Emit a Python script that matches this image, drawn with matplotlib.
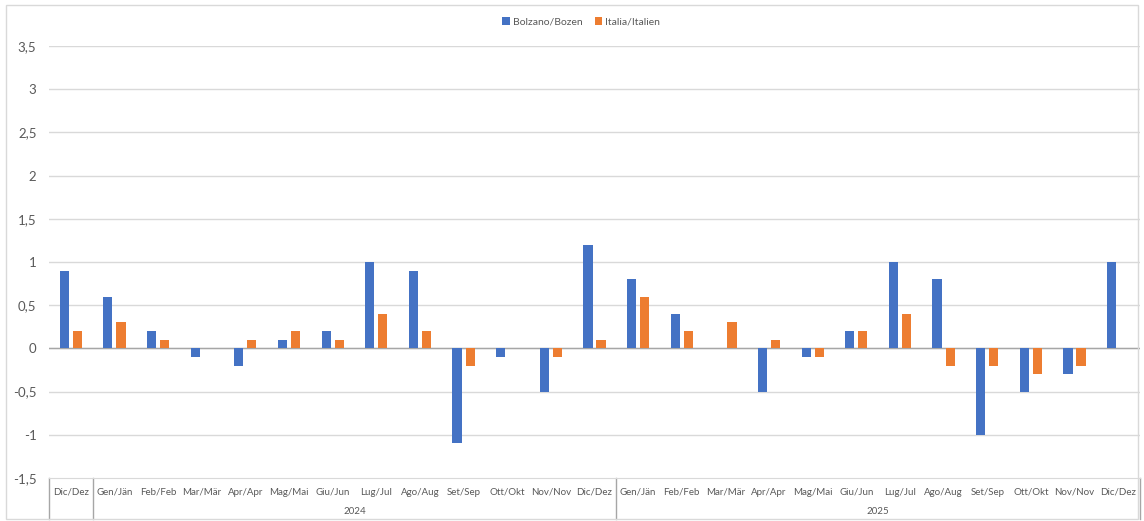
import matplotlib.pyplot as plt
from matplotlib.patches import Rectangle
import numpy as np

plt.rcParams['font.family'] = ['Lato', 'DejaVu Sans']

months = ['Gen/Jän', 'Feb/Feb', 'Mar/Mär', 'Apr/Apr', 'Mag/Mai', 'Giu/Jun',
          'Lug/Jul', 'Ago/Aug', 'Set/Sep', 'Ott/Okt', 'Nov/Nov', 'Dic/Dez']
categories = ['Dic/Dez'] + months + months
years = ['2024', '2025']

bolzano = [0.9, 0.6, 0.2, -0.1, -0.2, 0.1, 0.2, 1.0, 0.9, -1.1, -0.1, -0.5, 1.2,
           0.8, 0.4, 0.0, -0.5, -0.1, 0.2, 1.0, 0.8, -1.0, -0.5, -0.3, 1.0]
italia = [0.2, 0.3, 0.1, 0.0, 0.1, 0.2, 0.1, 0.4, 0.2, -0.2, 0.0, -0.1, 0.1,
          0.6, 0.2, 0.3, 0.1, -0.1, 0.2, 0.4, -0.2, -0.2, -0.3, -0.2, np.nan]

yticks = [-1.5, -1, -0.5, 0, 0.5, 1, 1.5, 2, 2.5, 3, 3.5]

blue = '#4472C4'
orange = '#ED7D31'
txt = '#595959'
grid = '#D9D9D9'

fig = plt.figure(figsize=(11.44, 5.21), dpi=100)
fig.patches.append(Rectangle((0.005, 0.004), 0.99, 0.987, transform=fig.transFigure,
                             fill=False, edgecolor=grid, linewidth=1))
ax = fig.add_axes([0.0428, 0.0825, 0.9537, 0.8292])

x = np.arange(len(categories))
ax.bar(x - 0.15, bolzano, width=0.21, color=blue, label='Bolzano/Bozen', zorder=3)
ax.bar(x + 0.15, italia, width=0.21, color=orange, label='Italia/Italien', zorder=3)

ax.set_xlim(-0.5, len(categories) - 0.5)
ax.set_ylim(-1.5, 3.5)
ax.set_yticks(yticks)
ax.set_yticklabels([('%g' % v).replace('.', ',') for v in yticks])
for v in yticks[1:]:
    ax.axhline(v, color=grid, linewidth=1, zorder=1)
ax.axhline(0, color='#A6A6A6', linewidth=1, zorder=2)

ax.set_xticks(x)
ax.set_xticklabels(categories, fontsize=7, color=txt)
ax.tick_params(axis='x', length=0, pad=7)
ax.tick_params(axis='y', length=0, pad=9, labelsize=9.5, labelcolor=txt)

for s in ['top', 'right', 'left']:
    ax.spines[s].set_visible(False)
ax.spines['bottom'].set_color(grid)

# group separators and year labels
tr = ax.get_xaxis_transform()
for b in [-0.5, 0.5, 12.5, 24.5]:
    ax.plot([b, b], [0, -0.095], transform=tr, color='#A6A6A6', linewidth=1,
            clip_on=False)
ax.text(6.5, -0.077, years[0], transform=tr, ha='center', va='center',
        fontsize=7, color=txt)
ax.text(18.5, -0.077, years[1], transform=tr, ha='center', va='center',
        fontsize=7, color=txt)

fig.legend(loc='center', bbox_to_anchor=(0.508, 0.958), ncol=2, frameon=False,
           fontsize=7.5, handlelength=0.7, handleheight=0.7, handletextpad=0.3,
           columnspacing=1.2, labelcolor=txt)

fig.savefig('out.png', dpi=100)
